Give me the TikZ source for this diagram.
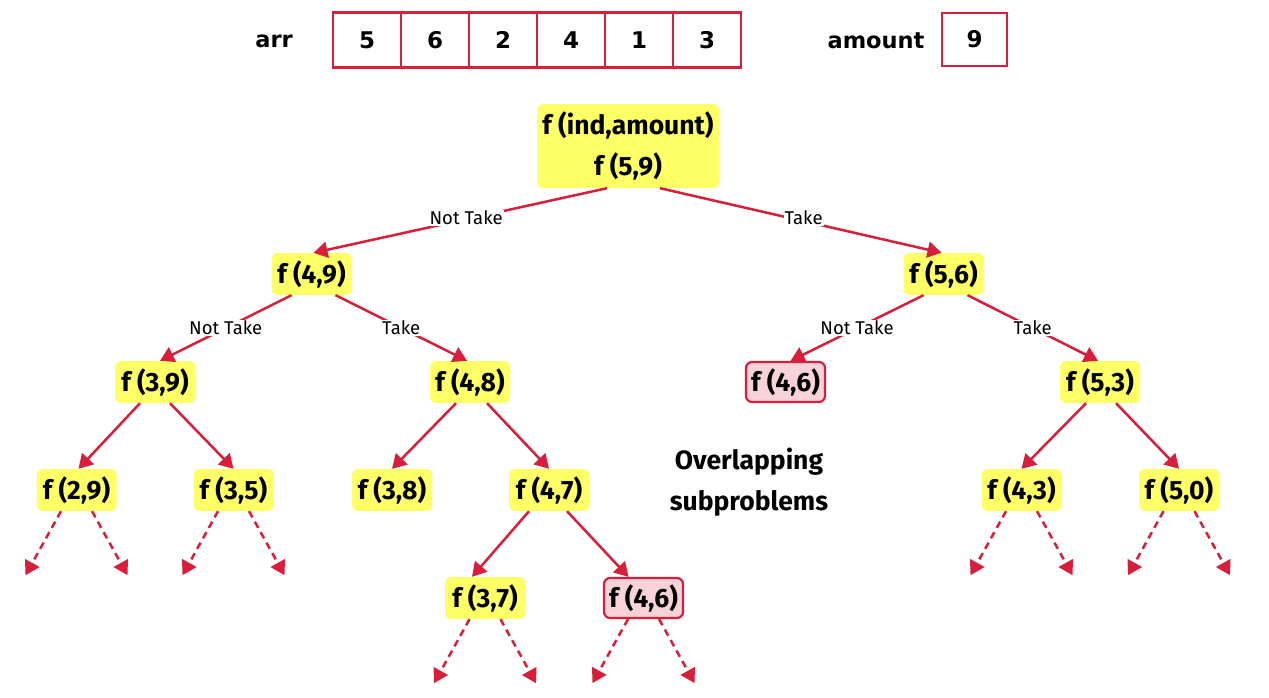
\documentclass[tikz,border=0pt]{standalone}
\usepackage{fontspec}
\setmainfont{Fira Sans}
\newfontfamily\topfont{DejaVu Sans}
\usetikzlibrary{arrows.meta}
\definecolor{cred}{HTML}{D81E3A}
\definecolor{cyel}{HTML}{FFFF66}
\definecolor{cpink}{HTML}{F7D3D8}
\begin{document}
\begin{tikzpicture}[x=1pt,y=-1pt,
 fn/.style={rounded corners=6pt, fill=cyel, minimum width=80pt, minimum height=42pt, inner sep=1pt, font=\fontsize{26.5}{30}\selectfont\bfseries},
 pk/.style={fn, fill=cpink, draw=cred, line width=2.2pt, minimum width=79pt, minimum height=40pt},
 edge/.style={draw=cred, line width=2.5pt, -{Triangle[length=14pt,width=16pt]}},
 dedge/.style={edge, dash pattern=on 7pt off 5pt},
 lbl/.style={fill=white, inner sep=1pt, font=\fontsize{18.5}{22}\selectfont, text=black},
 cell/.style={draw=cred, line width=2.5pt, minimum width=68pt, minimum height=55pt, font=\topfont\bfseries\fontsize{23}{26}\selectfont},
 toplbl/.style={font=\topfont\bfseries\fontsize{22.5}{26}\selectfont}
]
\useasboundingbox (0,0) rectangle (1269,697);

% top row
\node[toplbl] (arr) at (274,41) {arr};
\foreach \v [count=\i] in {5,6,2,4,1,3} {
  \node[cell] (c\i) at ({367+68*(\i-1)},40) {\v};
}
\node[toplbl] (amt) at (876,41) {amount};
\node[cell, minimum width=65pt, minimum height=53pt] (am) at (974.5,39.5) {9};

% tree nodes
\node[fn, minimum width=182pt, minimum height=84pt, align=center, font=\fontsize{26.5}{41}\selectfont\bfseries] (root) at (628,146) {f (ind,amount)\\f (5,9)};
\node[fn] (n49) at (311.5,274) {f (4,9)};
\node[fn] (n56) at (943.5,274) {f (5,6)};
\node[fn] (n39) at (155,382) {f (3,9)};
\node[fn] (n48) at (470,382) {f (4,8)};
\node[pk] (p46a) at (785.5,382) {f (4,6)};
\node[fn] (n53) at (1100,382) {f (5,3)};
\node[fn] (n29) at (76.5,490) {f (2,9)};
\node[fn] (n35) at (233.5,490) {f (3,5)};
\node[fn] (n38) at (392,490) {f (3,8)};
\node[fn] (n47) at (549,490) {f (4,7)};
\node[fn] (n43) at (1021.5,490) {f (4,3)};
\node[fn] (n50) at (1179,490) {f (5,0)};
\node[fn] (n37) at (485,598) {f (3,7)};
\node[pk] (p46b) at (643.5,598) {f (4,6)};

\node[align=center, font=\fontsize{26.5}{41}\selectfont\bfseries] (ov) at (749,482) {Overlapping\\subproblems};

% edges
\draw[edge] ([xshift=-21pt]root.south) -- node[lbl, pos=0.48, yshift=1.5pt] {Not Take} ([xshift=2pt]n49.north);
\draw[edge] ([xshift=32pt]root.south) -- node[lbl, pos=0.51, yshift=3.5pt] {Take} ([xshift=-2pt]n56.north);
\draw[edge] ([xshift=-20pt]n49.south) -- node[lbl] {Not Take} ([xshift=5pt]n39.north);
\draw[edge] ([xshift=24pt]n49.south) -- node[lbl] {Take} ([xshift=-3pt]n48.north);
\draw[edge] ([xshift=-20pt]n56.south) -- node[lbl] {Not Take} ([xshift=5pt]p46a.north);
\draw[edge] ([xshift=24pt]n56.south) -- node[lbl] {Take} ([xshift=-2pt]n53.north);
\draw[edge] ([xshift=-15pt]n39.south) -- ([xshift=2pt]n29.north);
\draw[edge] ([xshift=15pt]n39.south) -- (n35.north);
\draw[edge] ([xshift=-14pt]n48.south) -- (n38.north);
\draw[edge] ([xshift=17pt]n48.south) -- (n47.north);
\draw[edge] ([xshift=-14pt]n53.south) -- (n43.north);
\draw[edge] ([xshift=16pt]n53.south) -- (n50.north);
\draw[edge] ([xshift=-20pt]n47.south) -- ([xshift=-13pt]n37.north);
\draw[edge] ([xshift=18pt]n47.south) -- ([xshift=-15pt]p46b.north);

% dashed continuation arrows
\foreach \n in {n29,n35,n43,n50,n37,p46b} {
  \coordinate (\n-l) at ([shift={(-51,64)}]\n.south);
  \coordinate (\n-r) at ([shift={(51,64)}]\n.south);
  \draw[dedge] ([xshift=-15.5pt]\n.south) -- (\n-l);
  \draw[dedge] ([xshift=15.5pt]\n.south) -- (\n-r);
}
\end{tikzpicture}
\end{document}
